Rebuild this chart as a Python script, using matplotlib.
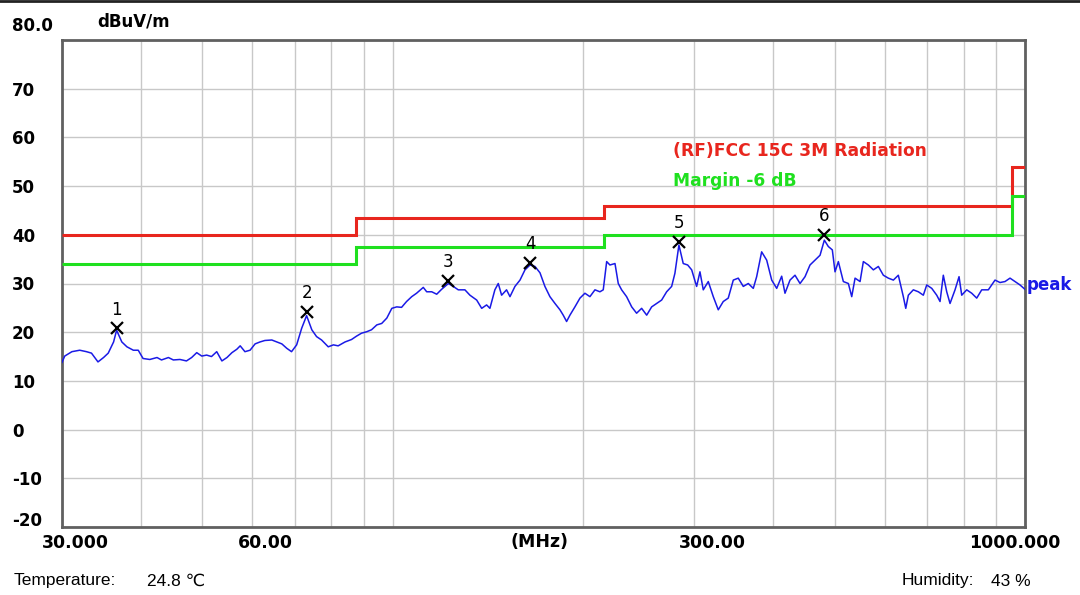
import matplotlib
matplotlib.use("Agg")
import matplotlib.pyplot as plt
import matplotlib.transforms as mtrans
from matplotlib.lines import Line2D

plt.rcParams['font.family'] = ['DejaVu Sans']

# peak trace (MHz, dBuV/m)
freq_mhz = [30.0, 30.3, 31.1, 32.0, 32.8, 33.4, 34.2, 34.9, 35.5, 36.2,
            36.6, 37.3, 38.0, 38.9, 39.6, 40.3, 41.3, 42.4, 43.1, 44.2,
            45.0, 46.1, 47.2, 48.1, 49.0, 49.9, 50.8, 51.7, 52.7, 53.7,
            54.7, 55.7, 56.7, 57.4, 58.4, 59.5, 60.6, 61.7, 62.8, 64.4,
            65.6, 66.8, 68.0, 69.2, 70.5, 71.8, 73.1, 74.5, 75.8, 77.2,
            79.1, 80.6, 82.0, 84.1, 86.1, 87.7, 89.3, 91.0, 92.6, 94.4,
            96.1, 97.9, 99.7, 101.5, 103.3, 105.2, 107.2, 109.1, 111.8, 113.2,
            115.3, 117.4, 119.5, 122.5, 124.7, 127.0, 130.1, 132.5, 135.8, 138.3,
            140.8, 142.5, 145.1, 146.9, 148.7, 151.4, 153.3, 156.1, 159.0, 161.9,
            164.9, 167.9, 171.0, 174.1, 177.3, 180.6, 183.9, 186.1, 188.4, 190.7,
            194.2, 197.8, 201.4, 205.1, 208.9, 212.7, 215.3, 218.0, 220.6, 224.7,
            227.4, 230.2, 234.4, 238.8, 243.1, 247.6, 252.2, 256.8, 261.5, 266.3,
            271.2, 276.2, 279.5, 283.6, 288.1, 292.8, 297.1, 302.5, 306.2, 309.9,
            315.6, 321.4, 327.3, 333.3, 339.4, 345.7, 352.0, 358.5, 365.1, 371.8,
            376.4, 383.3, 390.4, 397.6, 404.9, 412.3, 417.3, 425.0, 432.8, 440.8,
            448.9, 457.1, 465.5, 474.1, 481.6, 488.6, 495.8, 500.7, 506.8, 516.1,
            525.6, 532.1, 538.6, 548.5, 555.1, 565.3, 575.7, 586.3, 597.0, 608.0,
            619.2, 630.5, 642.1, 647.8, 653.9, 665.9, 678.2, 690.6, 699.2, 712.1,
            725.1, 733.9, 742.7, 752.0, 761.1, 775.1, 786.5, 794.2, 808.8, 823.7,
            838.8, 854.2, 875.0, 896.6, 913.0, 929.8, 946.9, 964.3, 982.0, 1000.0]
peak_dbuv = [13.8, 15.1, 16.0, 16.3, 16.0, 15.7, 13.9, 14.8, 15.7, 18.0,
             20.4, 18.0, 17.0, 16.3, 16.3, 14.6, 14.4, 14.8, 14.3, 14.8,
             14.3, 14.4, 14.1, 14.8, 15.8, 15.1, 15.3, 15.0, 16.0, 14.1,
             14.8, 15.8, 16.5, 17.2, 16.0, 16.3, 17.6, 18.0, 18.3, 18.4,
             18.0, 17.6, 16.7, 16.0, 17.4, 20.8, 23.4, 20.5, 19.1, 18.4,
             17.0, 17.4, 17.2, 18.0, 18.5, 19.2, 19.8, 20.1, 20.5, 21.5,
             21.8, 22.9, 24.9, 25.2, 25.1, 26.3, 27.3, 28.0, 29.2, 28.3,
             28.3, 27.8, 28.8, 30.0, 29.4, 28.7, 28.7, 27.6, 26.6, 24.9,
             25.6, 24.9, 28.7, 30.0, 27.6, 28.7, 27.3, 29.4, 30.7, 32.8,
             33.8, 33.5, 32.2, 29.4, 27.3, 25.9, 24.6, 23.5, 22.2, 23.5,
             25.2, 27.0, 28.0, 27.3, 28.7, 28.3, 28.7, 34.5, 33.8, 34.1,
             30.0, 28.7, 27.3, 25.2, 23.9, 24.9, 23.5, 25.2, 25.9, 26.6,
             28.3, 29.4, 32.1, 37.9, 34.1, 33.8, 32.8, 29.4, 32.4, 28.7,
             30.4, 27.3, 24.6, 26.3, 27.0, 30.7, 31.1, 29.4, 30.0, 29.0,
             31.4, 36.5, 34.8, 30.7, 29.0, 31.5, 28.0, 30.7, 31.7, 30.0,
             31.4, 33.8, 34.8, 35.8, 38.9, 37.6, 36.9, 32.4, 34.5, 30.4,
             30.0, 27.3, 31.1, 30.4, 34.5, 33.8, 32.8, 33.5, 31.7, 31.1,
             30.7, 31.7, 27.3, 24.9, 27.6, 28.7, 28.3, 27.6, 29.7, 29.0,
             27.6, 26.3, 31.7, 28.3, 25.9, 28.7, 31.4, 27.6, 28.7, 28.0,
             27.0, 28.7, 28.7, 30.7, 30.2, 30.4, 31.1, 30.4, 29.7, 28.8]

# FCC 15C limit (step edges in MHz)
limit_edges = [30, 87.5, 216, 955, 1000]
limit_dbuv = [40, 43.5, 46, 54]
margin_db = -6

# marked peaks
marker_freq = [36.6, 73.1, 122.5, 164.9, 283.6, 481.6]
marker_level = [20.8, 24.2, 30.5, 34.3, 38.6, 40.0]

grid_freqs = [40, 50, 60, 70, 80, 90, 100, 200, 300, 400, 500, 600, 700, 800, 900]
y_ticks = [80, 70, 60, 50, 40, 30, 20, 10, 0, -10, -20]
y_labels = ['80.0', '70', '60', '50', '40', '30', '20', '10', '0', '-10', '-20']
x_ticks = [30, 60, 300, 1000]
x_labels = ['30.000', '60.00', '300.00', '1000.000']

fig = plt.figure(figsize=(10.8, 5.95), dpi=100)
ax = fig.add_axes([62/1080, 1-527/595, 963/1080, 487/595])
ax.set_xscale('log')
ax.set_xlim(30, 1000)
ax.set_ylim(-20, 80)

ax.set_xticks(grid_freqs, minor=True)
ax.xaxis.set_minor_formatter(plt.NullFormatter())
ax.set_xticks(x_ticks)
ax.set_xticklabels(x_labels)
ax.set_yticks(y_ticks)
ax.set_yticklabels(y_labels)
ax.grid(True, which='both', color='#c8c8c8', lw=1.0)
ax.tick_params(which='both', length=0)
ax.tick_params(axis='y', pad=36, labelsize=12)
ax.tick_params(axis='x', pad=5, labelsize=12.5)
for lab in ax.get_yticklabels():
    lab.set_horizontalalignment('left')
    lab.set_fontweight('bold')
for lab in ax.get_xticklabels():
    lab.set_fontweight('bold')
for sp in ax.spines.values():
    sp.set_color('#606060')
    sp.set_linewidth(2)

# nudge some labels like the analyser software does
ylabs = ax.get_yticklabels()
ylabs[0].set_transform(ylabs[0].get_transform() + mtrans.ScaledTranslation(0, 16/100, fig.dpi_scale_trans))
ylabs[-1].set_transform(ylabs[-1].get_transform() + mtrans.ScaledTranslation(0, 8/100, fig.dpi_scale_trans))
x_shift = [13, 13, 18, -10]
for lab, dx in zip(ax.get_xticklabels(), x_shift):
    lab.set_transform(lab.get_transform() + mtrans.ScaledTranslation(dx/100, 0, fig.dpi_scale_trans))

ax.stairs(limit_dbuv, limit_edges, baseline=None, color='#e8261e', lw=2.2, zorder=3)
ax.stairs([v + margin_db for v in limit_dbuv], limit_edges, baseline=None, color='#1fe01f', lw=2.2, zorder=3)
ax.plot(freq_mhz, peak_dbuv, color='#1a1ae6', lw=1.1, zorder=4)

ax.plot(marker_freq, marker_level, 'x', color='black', ms=9, mew=1.6, zorder=5)
for i, (f, v) in enumerate(zip(marker_freq, marker_level)):
    ax.annotate(str(i + 1), (f, v), xytext=(0, 7), textcoords='offset points',
                ha='center', va='bottom', fontsize=12, zorder=6)

ax.text(1.002, 29.6, 'peak', transform=mtrans.blended_transform_factory(ax.transAxes, ax.transData),
        color='#1a1ae6', fontsize=12, fontweight='bold', va='center', ha='left', clip_on=False)
ax.text(673/1080, 1-151/595, '(RF)FCC 15C 3M Radiation', transform=fig.transFigure,
        color='#e8261e', fontsize=12.3, fontweight='bold', va='center', ha='left')
ax.text(673/1080, 1-181/595, 'Margin -6 dB', transform=fig.transFigure,
        color='#1fe01f', fontsize=12.3, fontweight='bold', va='center', ha='left')

fig.text(97/1080, 1-22/595, 'dBuV/m', fontsize=12, fontweight='bold', va='center', ha='left')
fig.text(540/1080, 1-542/595, '(MHz)', fontsize=12.5, fontweight='bold', va='center', ha='center')
side = ['Liberation Sans', 'DejaVu Sans']
fig.text(14/1080, 1-581/595, 'Temperature:', fontsize=12.5, family=side, va='center', ha='left')
fig.text(147/1080, 1-581/595, '24.8 \u2103', fontsize=12.5, family=side, va='center', ha='left')
fig.text(902/1080, 1-581/595, 'Humidity:', fontsize=12.5, family=side, va='center', ha='left')
fig.text(991/1080, 1-581/595, '43 %', fontsize=12.5, family=side, va='center', ha='left')

fig.add_artist(Line2D([0, 1], [0.998, 0.998], transform=fig.transFigure, color='#222222', lw=2))

fig.savefig('out.png', dpi=100)
